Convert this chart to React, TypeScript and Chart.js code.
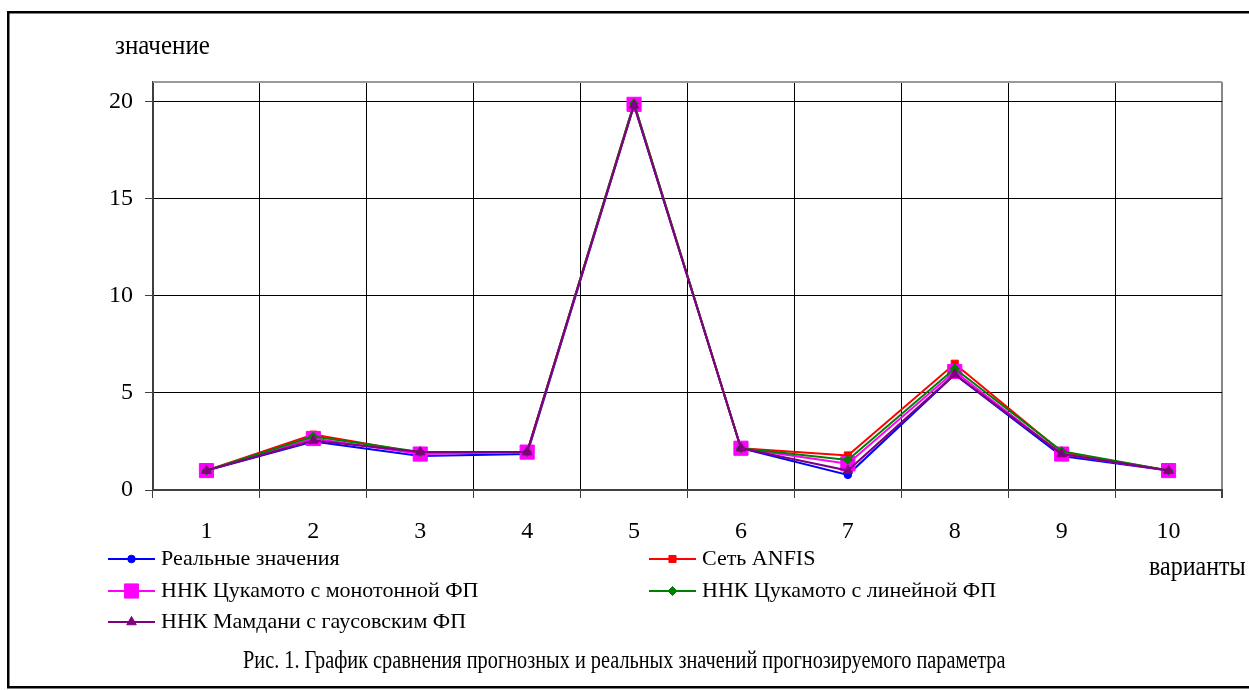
import React, { useEffect, useRef } from 'react';
import { Chart, registerables } from 'chart.js';

Chart.register(...registerables);

const categories = ['1', '2', '3', '4', '5', '6', '7', '8', '9', '10'];
const realValues = [1.0, 2.5, 1.75, 1.85, 19.8, 2.15, 0.78, 5.95, 1.75, 1.0];
const anfisValues = [1.0, 2.85, 1.9, 1.95, 19.9, 2.15, 1.78, 6.5, 1.95, 1.0];
const tsukamotoMonotone = [1.0, 2.65, 1.85, 1.95, 19.85, 2.15, 1.35, 6.1, 1.85, 1.0];
const tsukamotoLinear = [1.0, 2.75, 1.95, 1.95, 19.9, 2.15, 1.55, 6.25, 2.0, 1.0];
const mamdaniGauss = [1.0, 2.55, 1.95, 1.95, 19.8, 2.15, 1.0, 5.95, 1.85, 1.0];

const seriesNames = [
  'Реальные значения',
  'Сеть ANFIS',
  'ННК Цукамото с монотонной ФП',
  'ННК Цукамото с линейной ФП',
  'ННК Мамдани с гаусовским ФП',
];
const seriesColors = ['#0000FF', '#FF0000', '#FF00FF', '#008000', '#800080'];
const seriesMarkers = ['circle', 'rect', 'rect', 'rectRot', 'triangle'];
const markerRadii = [3.8, 5, 10, 4.5, 5.5];
const yTicks = [0, 5, 10, 15, 20];
const yAxisTitle = 'значение';
const xAxisTitle = 'варианты';
const captionText = 'Рис. 1. График сравнения прогнозных и реальных значений прогнозируемого параметра';

const FONT = "'Liberation Serif', 'Times New Roman', serif";

function drawMarker(ctx: CanvasRenderingContext2D, style: string, x: number, y: number, r: number, color: string) {
  ctx.save();
  ctx.fillStyle = color;
  ctx.strokeStyle = color;
  ctx.lineWidth = 1;
  ctx.beginPath();
  if (style === 'circle') {
    ctx.arc(x, y, r, 0, Math.PI * 2);
  } else if (style === 'rect') {
    const s = r * Math.SQRT1_2;
    ctx.rect(x - s, y - s, 2 * s, 2 * s);
  } else if (style === 'rectRot') {
    ctx.moveTo(x, y - r);
    ctx.lineTo(x + r, y);
    ctx.lineTo(x, y + r);
    ctx.lineTo(x - r, y);
    ctx.closePath();
  } else {
    ctx.moveTo(x, y - r);
    ctx.lineTo(x + r * 0.866, y + r * 0.5);
    ctx.lineTo(x - r * 0.866, y + r * 0.5);
    ctx.closePath();
  }
  ctx.fill();
  ctx.stroke();
  ctx.restore();
}

const legendSlots = [
  { x: 108, row: 0 },
  { x: 649, row: 0 },
  { x: 108, row: 1 },
  { x: 649, row: 1 },
  { x: 108, row: 2 },
];
const legendRowsY = [559, 591, 622];

function stretchedText(ctx: CanvasRenderingContext2D, text: string, x: number, y: number, sy: number) {
  ctx.save();
  ctx.translate(x, y);
  ctx.scale(1, sy);
  ctx.fillText(text, 0, 0);
  ctx.restore();
}

const decorPlugin = {
  id: 'decor',
  beforeDatasetsDraw(chart: any) {
    const { ctx, chartArea } = chart;
    ctx.save();
    ctx.strokeStyle = '#999999';
    ctx.lineWidth = 2;
    ctx.beginPath();
    ctx.moveTo(chartArea.left, chartArea.top);
    ctx.lineTo(chartArea.right, chartArea.top);
    ctx.stroke();
    ctx.restore();
  },
  afterDraw(chart: any) {
    const { ctx } = chart;
    ctx.save();
    ctx.strokeStyle = '#000';
    ctx.lineWidth = 2.5;
    ctx.strokeRect(8.25, 12.25, 1400, 675);

    ctx.fillStyle = '#000';
    ctx.textBaseline = 'middle';
    ctx.textAlign = 'left';
    ctx.font = `25px ${FONT}`;
    stretchedText(ctx, yAxisTitle, 115, 47, 1.1);
    ctx.font = `24px ${FONT}`;
    stretchedText(ctx, xAxisTitle, 1149, 568, 1.1);

    ctx.font = `22px ${FONT}`;
    seriesNames.forEach((name, i) => {
      const slot = legendSlots[i];
      const y = legendRowsY[slot.row];
      const x1 = slot.x;
      const x2 = slot.x + 47;
      ctx.strokeStyle = seriesColors[i];
      ctx.lineWidth = 2;
      ctx.beginPath();
      ctx.moveTo(x1, y);
      ctx.lineTo(x2, y);
      ctx.stroke();
      drawMarker(ctx, seriesMarkers[i], (x1 + x2) / 2, y, markerRadii[i], seriesColors[i]);
      ctx.fillStyle = '#000';
      ctx.fillText(name, x2 + 6, y);
    });

    ctx.font = `20.3px ${FONT}`;
    stretchedText(ctx, captionText, 243, 662, 1.22);
    ctx.restore();
  },
};

export default function App() {
  const canvasRef = useRef<HTMLCanvasElement | null>(null);

  useEffect(() => {
    if (!canvasRef.current) return;
    const seriesData = [realValues, anfisValues, tsukamotoMonotone, tsukamotoLinear, mamdaniGauss];
    const chart = new Chart(canvasRef.current, {
      type: 'line',
      data: {
        labels: categories,
        datasets: seriesData.map((d, i) => ({
          label: seriesNames[i],
          data: d,
          borderColor: seriesColors[i],
          backgroundColor: seriesColors[i],
          borderWidth: 2,
          pointStyle: seriesMarkers[i] as any,
          pointRadius: markerRadii[i],
          pointBorderWidth: 1,
          pointBorderColor: seriesColors[i],
          pointBackgroundColor: seriesColors[i],
          tension: 0,
          fill: false,
          order: 5 - i,
        })),
      },
      options: {
        responsive: false,
        animation: false,
        layout: { padding: { left: 0, top: 82, right: 27, bottom: 130 } },
        plugins: {
          legend: { display: false },
          tooltip: { enabled: false },
          title: { display: false },
        },
        scales: {
          x: {
            type: 'category',
            offset: true,
            grid: {
              offset: true,
              color: (c: any) => (c.type === 'scale' ? '#888888' : '#000000'),
              lineWidth: (c: any) => (c.type === 'scale' ? 2 : 1),
              tickColor: '#404040',
              tickLength: 8,
              drawTicks: true,
            },
            border: { display: true, color: '#404040', width: 2 },
            ticks: {
              color: '#000',
              font: { family: FONT, size: 24 },
              padding: 19,
              maxRotation: 0,
              autoSkip: false,
            },
            afterFit: (s: any) => {
              s.height = 70;
            },
          },
          y: {
            type: 'linear',
            min: 0,
            max: 21,
            grid: {
              color: '#000000',
              lineWidth: 1,
              tickColor: '#404040',
              tickLength: 8,
            },
            border: { display: true, color: '#404040', width: 2 },
            ticks: {
              stepSize: 5,
              includeBounds: false,
              color: '#000',
              font: { family: FONT, size: 24 },
              padding: 12,
              callback: (v: any) => (yTicks.includes(Number(v)) ? String(v) : ''),
            },
            afterFit: (s: any) => {
              s.width = 153;
            },
          },
        },
      },
      plugins: [decorPlugin],
    });
    return () => chart.destroy();
  }, []);

  return (
    <div style={{ position: 'absolute', left: 0, top: 0, width: 1249, height: 690, background: '#fff' }}>
      <canvas ref={canvasRef} width={1249} height={690} style={{ display: 'block' }} />
    </div>
  );
}
